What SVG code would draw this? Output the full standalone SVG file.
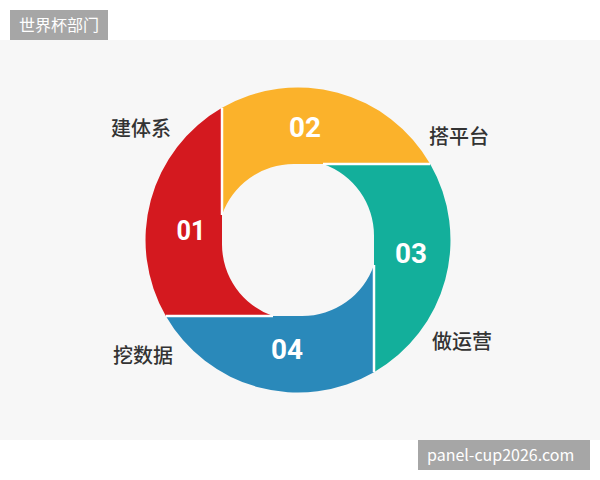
<svg xmlns="http://www.w3.org/2000/svg" width="600" height="480" viewBox="0 0 600 480">
<style>
.lbl{font-family:"Noto Sans CJK SC","Noto Sans",sans-serif;font-size:20px;font-weight:500;fill:#333333}
.num{font-family:Roboto,"Liberation Sans",sans-serif;font-size:28px;font-weight:bold;fill:#ffffff;text-anchor:middle}
.tag{font-family:"Noto Sans CJK SC","Liberation Sans",sans-serif;font-size:16px;fill:#ffffff}
.gap{stroke:#ffffff;stroke-width:2.5;fill:none}
</style>
<defs>
<path id="blade" d="M165.8,316 A152.5,152.5 0 0 1 222,107.8 L222,244 A76,76 0 0 0 273,316 Z"/>
</defs>
<rect x="0" y="0" width="600" height="480" fill="#ffffff"/>
<rect x="0" y="40" width="600" height="400" fill="#f7f7f7"/>
<g id="node-01"><use href="#blade" fill="#d4191f"/><text class="num" x="191" y="240" textLength="29" lengthAdjust="spacingAndGlyphs">01</text><text class="lbl" x="111" y="136">建体系</text></g>
<g id="node-02"><use href="#blade" fill="#fbb22b" transform="rotate(90 298 240)"/><text class="num" x="305" y="137" textLength="32" lengthAdjust="spacingAndGlyphs">02</text><text class="lbl" x="429" y="144">搭平台</text></g>
<g id="node-03"><use href="#blade" fill="#13af9b" transform="rotate(180 298 240)"/><text class="num" x="411" y="263" textLength="32" lengthAdjust="spacingAndGlyphs">03</text><text class="lbl" x="432" y="349">做运营</text></g>
<g id="node-04"><use href="#blade" fill="#2a89ba" transform="rotate(270 298 240)"/><text class="num" x="287" y="359" textLength="32" lengthAdjust="spacingAndGlyphs">04</text><text class="lbl" x="113" y="363">挖数据</text></g>
<g id="connectors">
<path class="gap" d="M222,107.8 V215"/>
<path class="gap" d="M222,107.8 V215" transform="rotate(90 298 240)"/>
<path class="gap" d="M222,107.8 V215" transform="rotate(180 298 240)"/>
<path class="gap" d="M222,107.8 V215" transform="rotate(270 298 240)"/>
</g>
<g id="tag-top"><rect x="10" y="10" width="98" height="30" fill="#a6a6a6"/><text class="tag" x="19" y="31">世界杯部门</text></g>
<g id="tag-bottom"><rect x="418" y="440" width="172" height="30" fill="#a6a6a6"/><text class="tag" x="427" y="461" font-family="'Liberation Sans',sans-serif">panel-cup2026.com</text></g>
</svg>
